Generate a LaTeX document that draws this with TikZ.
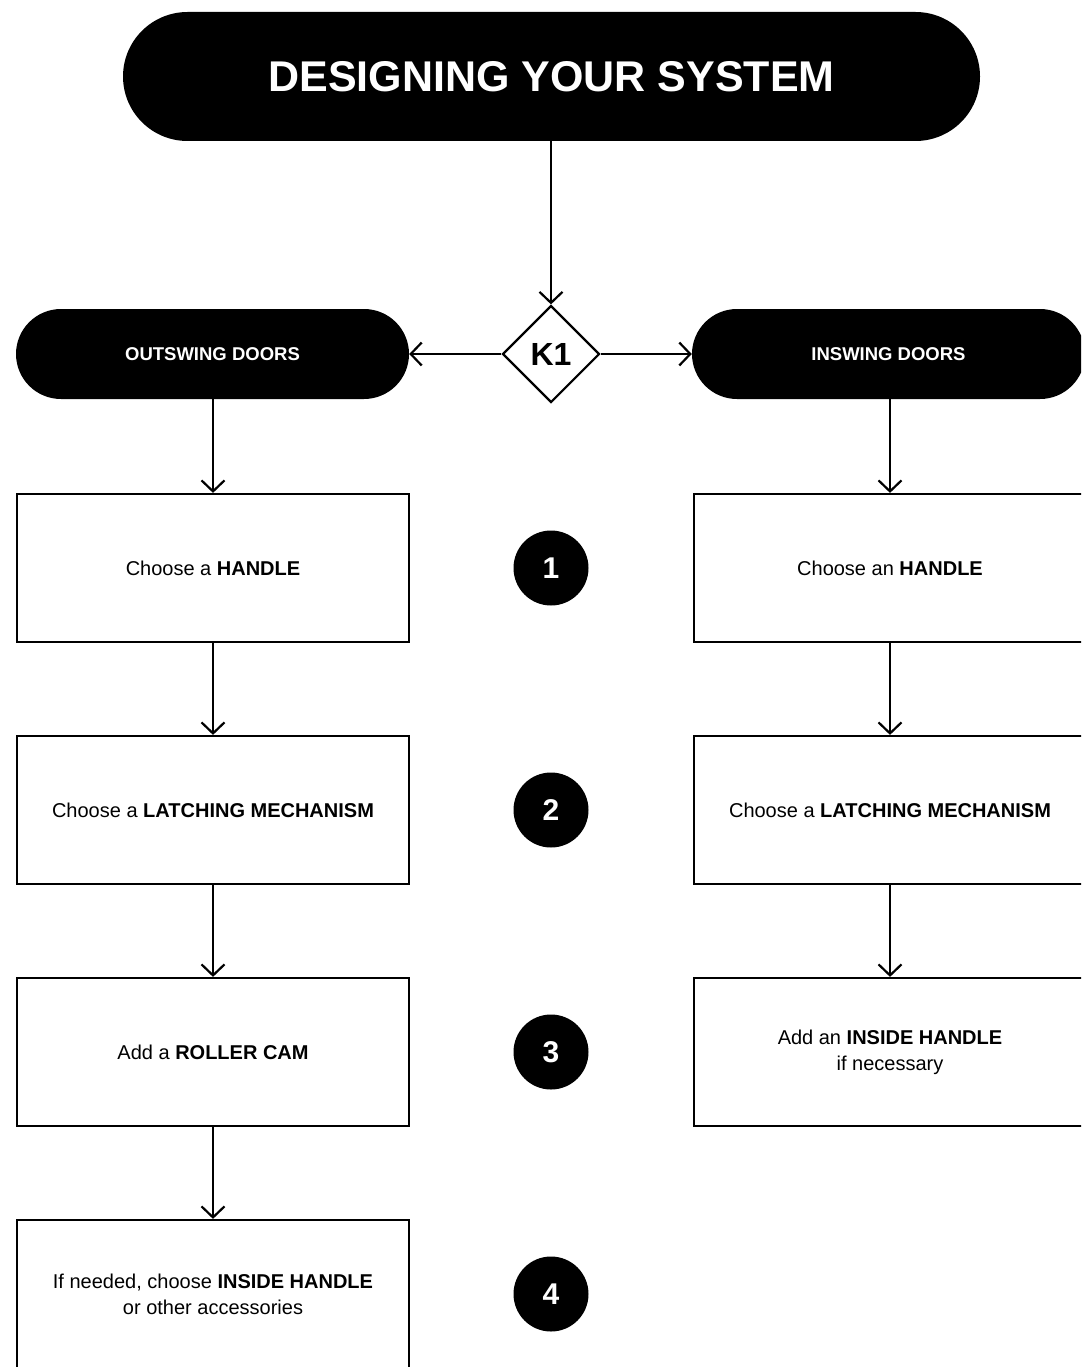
\documentclass[tikz,border=0pt]{standalone}
\usepackage{fontspec}
\setmainfont{Liberation Sans}
\usetikzlibrary{shapes.geometric,arrows.meta}
\begin{document}
\begin{tikzpicture}[x=1pt,y=-1pt,
  pill/.style={fill=black,text=white,font=\bfseries\fontsize{18.5}{22}\selectfont,rounded corners=45pt,minimum width=393pt,minimum height=90pt,inner sep=0pt},
  stepbox/.style={draw=black,line width=2.2pt,minimum width=392pt,minimum height=148pt,inner sep=0pt,align=center,font=\fontsize{20}{26}\selectfont},
  numdot/.style={circle,fill=black,text=white,minimum size=75pt,inner sep=0pt,font=\bfseries\fontsize{30}{30}\selectfont},
  conn/.style={line width=2.2pt,-{Straight Barb[length=11pt,width=23pt]}}
]
\useasboundingbox (0,0) rectangle (1081,1367);
\clip (0,0) rectangle (1081,1367);

\node[fill=black,text=white,rounded corners=64.5pt,minimum width=857pt,minimum height=129pt,inner sep=0pt,font=\bfseries\fontsize{43}{50}\selectfont] (title) at (551.5,76.5) {DESIGNING YOUR SYSTEM};

\node[diamond,draw=black,line width=2.2pt,minimum width=97pt,minimum height=97pt,inner sep=0pt,font=\bfseries\fontsize{32}{32}\selectfont] (k1) at (551,354) {K1};

\node[pill] (outl) at (212.5,354) {OUTSWING DOORS};
\node[pill] (inl) at (888.5,354) {INSWING DOORS};

\node[stepbox] (l1) at (213,568) {Choose a \textbf{HANDLE}};
\node[stepbox] (l2) at (213,810) {Choose a \textbf{LATCHING MECHANISM}};
\node[stepbox] (l3) at (213,1052) {Add a \textbf{ROLLER CAM}};
\node[stepbox] (l4) at (213,1294) {If needed, choose \textbf{INSIDE HANDLE}\\or other accessories};

\node[stepbox] (r1) at (890,568) {Choose an \textbf{HANDLE}};
\node[stepbox] (r2) at (890,810) {Choose a \textbf{LATCHING MECHANISM}};
\node[stepbox] (r3) at (890,1052) {Add an \textbf{INSIDE HANDLE}\\if necessary};

\node[numdot] (n1) at (551,568) {1};
\node[numdot] (n2) at (551,810) {2};
\node[numdot] (n3) at (551,1052) {3};
\node[numdot] (n4) at (551,1294) {4};

\draw[conn] (title.south -| k1.north) -- (k1.north);
\draw[conn] (k1.west) -- (outl.east);
\draw[conn] (k1.east) -- (inl.west);

\draw[conn] (outl.south -| l1.north) -- (l1.north);
\draw[conn] (l1) -- (l2);
\draw[conn] (l2) -- (l3);
\draw[conn] (l3) -- (l4);

\draw[conn] (inl.south -| r1.north) -- (r1.north);
\draw[conn] (r1) -- (r2);
\draw[conn] (r2) -- (r3);
\end{tikzpicture}
\end{document}
